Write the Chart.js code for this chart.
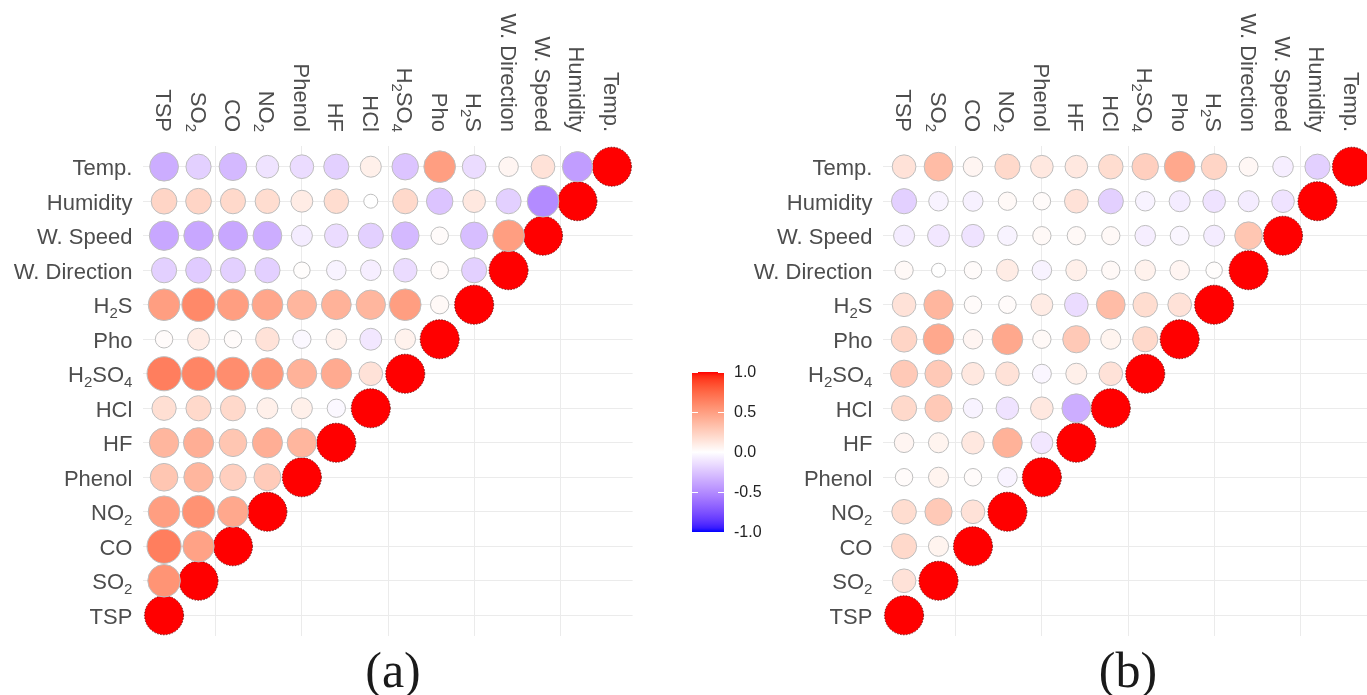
<!DOCTYPE html>
<html>
<head>
<meta charset="utf-8">
<script src="https://cdn.jsdelivr.net/npm/chart.js@4.4.1/dist/chart.umd.min.js"></script>
<style>
html, body { margin: 0; padding: 0; background: #fff; overflow: hidden; width: 1367px; height: 695px; }
canvas { position: absolute; top: 0; }
#chartA { left: 0; }
#chartB { left: 740px; }
.title { position: absolute; top: 645px; width: 200px; text-align: center; font-family: 'Liberation Serif', serif; font-size: 50px; line-height: 50px; color: #1a1a1a; }
#bar { position: absolute; left: 692px; top: 372px; width: 32px; height: 160px; }
.tick { position: absolute; height: 1px; width: 6px; background: #fff; }
.blab { position: absolute; left: 734px; font-family: 'Liberation Sans', Arial, sans-serif; font-size: 16px; line-height: 16px; color: #222; }
</style>
</head>
<body>
<canvas id="chartA" width="700" height="695"></canvas>
<canvas id="chartB" width="700" height="695"></canvas>
<div class="title" style="left:293px">(a)</div>
<div class="title" style="left:1028px">(b)</div>
<div id="bar"></div>
<script>
// variables, bottom -> top on the y axis, left -> right on the x axis
const categories = ['TSP', 'SO₂', 'CO', 'NO₂', 'Phenol', 'HF', 'HCl', 'H₂SO₄', 'Pho', 'H₂S', 'W. Direction', 'W. Speed', 'Humidity', 'Temp.'];

// lower triangle, one row per variable (row j has columns 0..j)
const corrA = [
    [1],
    [0.55, 1],
    [0.65, 0.48, 1],
    [0.50, 0.56, 0.45, 1],
    [0.30, 0.38, 0.25, 0.27, 1],
    [0.38, 0.42, 0.30, 0.42, 0.38, 1],
    [0.17, 0.20, 0.20, 0.08, 0.08, -0.03, 1],
    [0.65, 0.62, 0.58, 0.52, 0.40, 0.44, 0.15, 1],
    [0.02, 0.10, 0.02, 0.15, -0.03, 0.07, -0.10, 0.07, 1],
    [0.50, 0.60, 0.50, 0.46, 0.38, 0.40, 0.38, 0.50, 0.03, 1],
    [-0.20, -0.22, -0.20, -0.20, 0.01, -0.05, -0.07, -0.15, 0.02, -0.20, 1],
    [-0.38, -0.38, -0.38, -0.35, -0.08, -0.15, -0.20, -0.30, 0.02, -0.28, 0.50, 1],
    [0.22, 0.22, 0.20, 0.18, 0.10, 0.18, 0.00, 0.20, -0.25, 0.12, -0.20, -0.50, 1],
    [-0.35, -0.20, -0.30, -0.12, -0.15, -0.20, 0.08, -0.25, 0.50, -0.15, 0.05, 0.15, -0.42, 1]
];

const corrB = [
    [1],
    [0.15, 1],
    [0.20, 0.06, 1],
    [0.18, 0.28, 0.15, 1],
    [0.02, 0.06, 0.02, -0.05, 1],
    [0.05, 0.06, 0.12, 0.40, -0.10, 1],
    [0.20, 0.28, -0.05, -0.12, 0.12, -0.35, 1],
    [0.28, 0.28, 0.12, 0.15, -0.04, 0.08, 0.15, 1],
    [0.22, 0.45, 0.05, 0.45, 0.03, 0.28, 0.06, 0.20, 1],
    [0.15, 0.38, 0.02, 0.02, 0.10, -0.15, 0.35, 0.18, 0.15, 1],
    [0.03, 0.00, 0.02, 0.10, -0.05, 0.08, 0.03, 0.07, 0.05, 0.01, 1],
    [-0.08, -0.10, -0.12, -0.05, 0.03, 0.03, 0.03, -0.07, -0.04, -0.08, 0.30, 1],
    [-0.20, -0.05, -0.06, 0.03, 0.02, 0.15, -0.20, -0.05, -0.08, -0.12, -0.08, -0.12, 1],
    [0.15, 0.35, 0.05, 0.20, 0.12, 0.12, 0.18, 0.25, 0.45, 0.22, 0.04, -0.07, -0.20, 1]
];

const legendTicks = [1.0, 0.5, 0.0, -0.5, -1.0];

// --- colour scale (blue - white - red, interpolated in Lab like ggplot) ---
function toLin(c) { c /= 255; return c <= 0.04045 ? c / 12.92 : Math.pow((c + 0.055) / 1.055, 2.4); }
function toSrgb(c) {
    c = c <= 0.0031308 ? 12.92 * c : 1.055 * Math.pow(c, 1 / 2.4) - 0.055;
    return Math.round(Math.max(0, Math.min(1, c)) * 255);
}
function rgbToLab(rgb) {
    const R = toLin(rgb[0]), G = toLin(rgb[1]), B = toLin(rgb[2]);
    const X = (0.4124 * R + 0.3576 * G + 0.1805 * B) / 0.95047;
    const Y = 0.2126 * R + 0.7152 * G + 0.0722 * B;
    const Z = (0.0193 * R + 0.1192 * G + 0.9505 * B) / 1.08883;
    const f = t => t > 0.008856 ? Math.cbrt(t) : 7.787 * t + 16 / 116;
    return [116 * f(Y) - 16, 500 * (f(X) - f(Y)), 200 * (f(Y) - f(Z))];
}
function labToRgb(lab) {
    const fy = (lab[0] + 16) / 116, fx = fy + lab[1] / 500, fz = fy - lab[2] / 200;
    const inv = t => t * t * t > 0.008856 ? t * t * t : (t - 16 / 116) / 7.787;
    const X = inv(fx) * 0.95047, Y = inv(fy), Z = inv(fz) * 1.08883;
    return [
        toSrgb(3.2406 * X - 1.5372 * Y - 0.4986 * Z),
        toSrgb(-0.9689 * X + 1.8758 * Y + 0.0415 * Z),
        toSrgb(0.0557 * X - 0.2040 * Y + 1.0570 * Z)
    ];
}
const labWhite = rgbToLab([255, 255, 255]);
const labRed = rgbToLab([255, 0, 0]);
const labBlue = rgbToLab([0, 0, 255]);

function corrColor(v) {
    const t = Math.min(1, Math.abs(v));
    const end = v >= 0 ? labRed : labBlue;
    const lab = labWhite.map((w, k) => w + (end[k] - w) * t);
    const c = labToRgb(lab);
    return 'rgb(' + c[0] + ',' + c[1] + ',' + c[2] + ')';
}

// circle diameter grows with sqrt(|r|)
function corrRadius(v) {
    return (14 + 25 * Math.sqrt(Math.min(1, Math.abs(v)))) / 2;
}

function buildPoints(matrix, diag) {
    const pts = [];
    matrix.forEach((row, j) => {
        row.forEach((v, i) => {
            if ((i === j) === diag) pts.push({ x: i, y: j, v: v });
        });
    });
    return pts;
}

// --- labels with subscripts ---
const SUBS = '₀₁₂₃₄₅₆₇₈₉';
const mainFont = '22px "Liberation Sans", Arial, sans-serif';
const subFont = '15px "Liberation Sans", Arial, sans-serif';

function splitSub(text) {
    const parts = [];
    for (const ch of text) {
        const k = SUBS.indexOf(ch);
        const isSub = k >= 0;
        const c = isSub ? String(k) : ch;
        const last = parts[parts.length - 1];
        if (last && last.sub === isSub) last.t += c;
        else parts.push({ t: c, sub: isSub });
    }
    return parts;
}

// draws text so that it ends at x (right aligned), baseline y
function drawRich(ctx, text, x, y) {
    const parts = splitSub(text);
    let total = 0;
    parts.forEach(p => {
        ctx.font = p.sub ? subFont : mainFont;
        p.w = ctx.measureText(p.t).width;
        total += p.w;
    });
    let cx = x - total;
    parts.forEach(p => {
        ctx.font = p.sub ? subFont : mainFont;
        ctx.fillText(p.t, cx, p.sub ? y + 5 : y);
        cx += p.w;
    });
}

const axisLabels = {
    id: 'axisLabels',
    beforeDatasetDraw(chart, args) {
        if (args.index === 1) chart.ctx.setLineDash([1.5, 1.5]);
    },
    afterDatasetDraw(chart, args) {
        if (args.index === 1) chart.ctx.setLineDash([]);
    },
    afterDraw(chart) {
        const ctx = chart.ctx;
        const area = chart.chartArea;
        const xs = chart.scales.x, ys = chart.scales.y;
        ctx.save();
        ctx.fillStyle = '#4d4d4d';
        ctx.textAlign = 'left';
        ctx.textBaseline = 'alphabetic';
        categories.forEach((name, i) => {
            // row labels
            drawRich(ctx, name, area.left - 11, ys.getPixelForValue(i) + 8.5);
            // column labels, rotated clockwise
            ctx.save();
            ctx.translate(xs.getPixelForValue(i), area.top - 14);
            ctx.rotate(Math.PI / 2);
            drawRich(ctx, name, 0, 8);
            ctx.restore();
        });
        ctx.restore();
    }
};

const xGridAt = [1.5, 4, 6.5, 9, 11.5];

function makeChart(id, matrix) {
    return new Chart(document.getElementById(id), {
        type: 'scatter',
        data: {
            datasets: [
                { data: buildPoints(matrix, false), borderColor: '#bebebe', clip: false },
                { data: buildPoints(matrix, true), borderColor: 'rgba(100,0,0,0.85)', clip: false }
            ]
        },
        options: {
            responsive: false,
            animation: false,
            events: [],
            layout: {
                autoPadding: false,
                padding: { left: 143.4, top: 146, right: 67.4, bottom: 59 }
            },
            elements: {
                point: {
                    radius: ctx => corrRadius(ctx.raw ? ctx.raw.v : 0),
                    backgroundColor: ctx => corrColor(ctx.raw ? ctx.raw.v : 0),
                    borderWidth: 1
                }
            },
            plugins: {
                legend: { display: false },
                tooltip: { enabled: false }
            },
            scales: {
                x: {
                    type: 'linear',
                    min: -0.6,
                    max: 13.6,
                    afterBuildTicks: s => { s.ticks = xGridAt.map(v => ({ value: v })); },
                    ticks: { display: false },
                    grid: { color: '#ebebeb', lineWidth: 1, drawTicks: false },
                    border: { display: false }
                },
                y: {
                    type: 'linear',
                    min: -0.6,
                    max: 13.6,
                    afterBuildTicks: s => { s.ticks = categories.map((c, i) => ({ value: i })); },
                    ticks: { display: false },
                    grid: { color: '#ebebeb', lineWidth: 1, drawTicks: false },
                    border: { display: false }
                }
            }
        },
        plugins: [axisLabels]
    });
}

makeChart('chartA', corrA);
makeChart('chartB', corrB);

// --- colour bar legend ---
const bar = document.getElementById('bar');
const stops = [];
for (let k = 0; k <= 40; k++) {
    const v = 1 - k / 20;
    stops.push(corrColor(v) + ' ' + (k / 40 * 100).toFixed(1) + '%');
}
bar.style.background = 'linear-gradient(to bottom, ' + stops.join(', ') + ')';
legendTicks.forEach(v => {
    const y = (1 - v) / 2 * 160;
    ['0px', '26px'].forEach(left => {
        const t = document.createElement('div');
        t.className = 'tick';
        t.style.left = left;
        t.style.top = (y - 0.5) + 'px';
        bar.appendChild(t);
    });
    const lab = document.createElement('div');
    lab.className = 'blab';
    lab.textContent = v.toFixed(1);
    lab.style.top = (372 + y - 8) + 'px';
    document.body.appendChild(lab);
});
</script>
</body>
</html>
